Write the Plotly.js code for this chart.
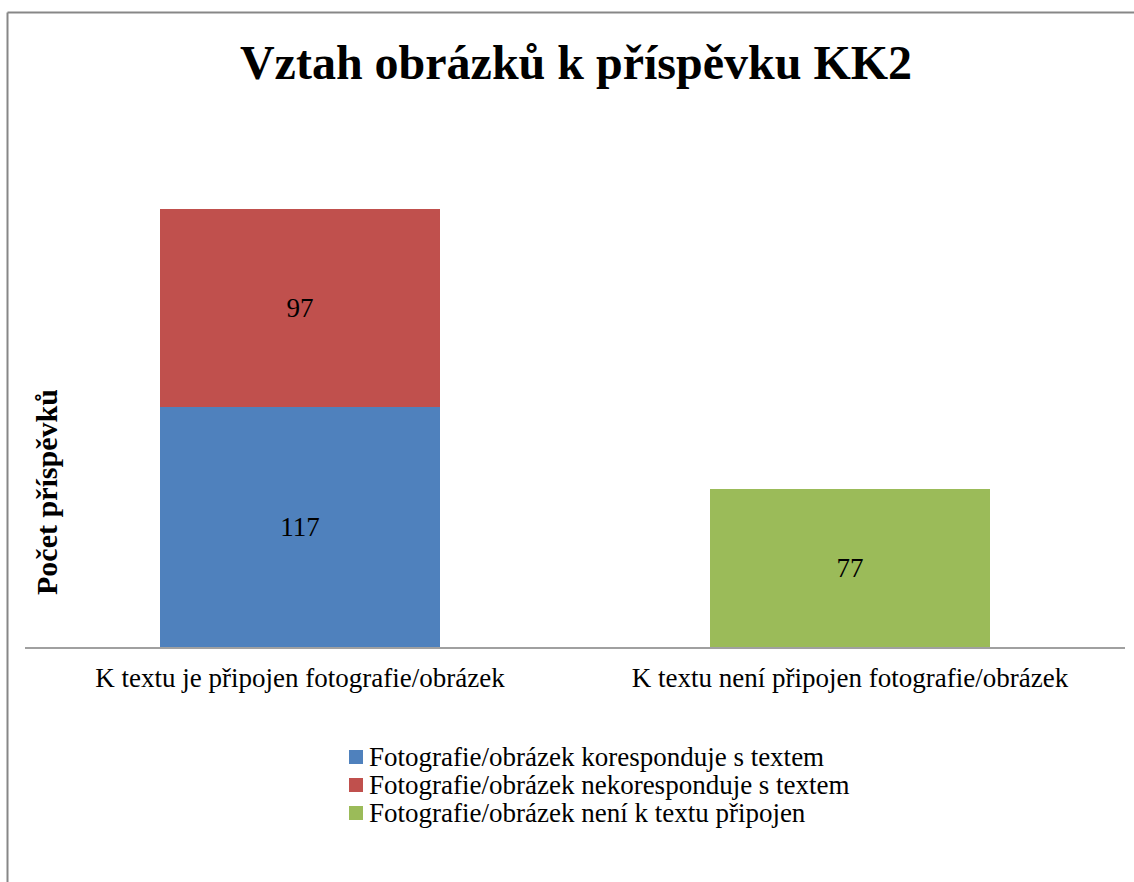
<!DOCTYPE html>
<html>
<head>
<meta charset="utf-8">
<script src="https://cdn.plot.ly/plotly-3.0.1.min.js"></script>
<style>html,body{margin:0;padding:0;background:#fff;}#chart{width:1134px;height:882px;}</style>
</head>
<body>
<div id="chart"></div>
<script>
var categories = ["K textu je připojen fotografie/obrázek", "K textu není připojen fotografie/obrázek"];
var seriesNames = ["Fotografie/obrázek koresponduje s textem", "Fotografie/obrázek nekoresponduje s textem", "Fotografie/obrázek není k textu připojen"];
var korespondujeValues = [117, null];
var nekorespondujeValues = [97, null];
var nepripojenValues = [null, 77];
var colors = ["#4F81BD", "#C0504D", "#9BBB59"];

var font = "Liberation Serif, Times New Roman, serif";
var L = 25, R = 1125, B = 647, T = 135;
function px2x(p) { return (p - L) / (R - L); }
function px2y(p) { return (B - p) / (B - T); }

function mk(name, vals, color) {
  return {
    type: "bar", name: name, x: categories, y: vals,
    marker: {color: color},
    width: 0.51,
    text: vals.map(function(v){ return v === null ? "" : String(v); }),
    textposition: "inside", insidetextanchor: "middle",
    textfont: {family: font, size: 27, color: "#000"},
    hoverinfo: "none", showlegend: false
  };
}
var data = [
  mk(seriesNames[0], korespondujeValues, colors[0]),
  mk(seriesNames[1], nekorespondujeValues, colors[1]),
  mk(seriesNames[2], nepripojenValues, colors[2])
];

var annotations = [{text: "<b>Počet příspěvků</b>", xref: "paper", yref: "paper", x: px2x(46), y: px2y(492), textangle: -90, showarrow: false, xanchor: "center", yanchor: "middle", font: {family: font, size: 30, color: "#000"}}];
var shapes = [
  {type: "line", xref: "paper", yref: "paper", x0: px2x(7.5), x1: px2x(7.5), y0: -0.5, y1: px2y(12.5), line: {color: "#878787", width: 2}},
  {type: "line", xref: "paper", yref: "paper", x0: px2x(7.5), x1: 1.1, y0: px2y(12.5), y1: px2y(12.5), line: {color: "#878787", width: 2}}
];
var legendRowY = [757, 785, 813];
seriesNames.forEach(function(name, i) {
  var cy = legendRowY[i];
  shapes.push({type: "rect", xref: "paper", yref: "paper", x0: px2x(349), x1: px2x(363), y0: px2y(cy - 7), y1: px2y(cy + 7), fillcolor: colors[i], line: {width: 0}});
  annotations.push({text: name, xref: "paper", yref: "paper", x: px2x(367), y: px2y(cy), xanchor: "left", yanchor: "middle", showarrow: false, font: {family: font, size: 27, color: "#000"}});
});

var layout = {
  width: 1134, height: 882,
  margin: {l: L, r: 1134 - R, t: T, b: 882 - B},
  paper_bgcolor: "#fff", plot_bgcolor: "#fff",
  barmode: "stack",
  showlegend: false,
  title: {text: "<b>Vztah obrázků k příspěvku KK2</b>", font: {family: font, size: 48, color: "#000"}, x: 576 / 1134, xanchor: "center", y: 0.93, yanchor: "middle"},
  xaxis: {showline: true, linecolor: "#A0A0A0", linewidth: 2, ticks: "outside", ticklen: 6, tickcolor: "rgba(0,0,0,0)", tickfont: {family: font, size: 27, color: "#000"}, fixedrange: true},
  yaxis: {range: [0, 250], visible: false, showgrid: false, zeroline: false, fixedrange: true},
  annotations: annotations,
  shapes: shapes
};
Plotly.newPlot("chart", data, layout, {displayModeBar: false, staticPlot: true});
</script>
</body>
</html>
